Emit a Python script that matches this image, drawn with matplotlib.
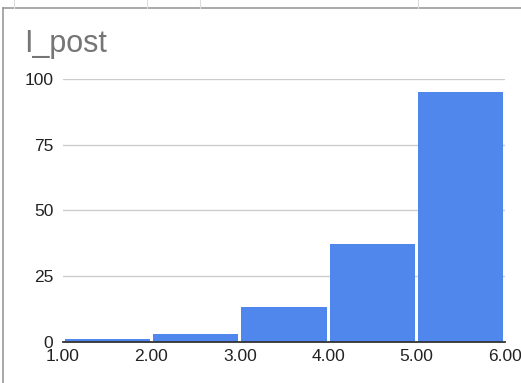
import matplotlib
matplotlib.use("Agg")
from matplotlib import pyplot as plt
from matplotlib.lines import Line2D
import numpy as np

plt.rcParams["font.family"] = ["Liberation Sans", "DejaVu Sans"]

title = "I_post"
bin_edges = [1.0, 2.0, 3.0, 4.0, 5.0, 6.0]
counts = [1, 3, 13, 37, 95]
y_ticks = [0, 25, 50, 75, 100]

W, H = 521, 383
fig = plt.figure(figsize=(W / 100, H / 100), dpi=100)
fig.patch.set_facecolor("white")

# plot area in pixel coords
left, right, bottom, top = 63, 505, 341.5, 79
ax = fig.add_axes([left / W, (H - bottom) / H, (right - left) / W, (bottom - top) / H])

edges = np.array(bin_edges)
centers = (edges[:-1] + edges[1:]) / 2
widths = np.diff(edges) * 0.965
ax.bar(centers, counts, width=widths, color="#5087EC", zorder=3)

ax.set_xlim(edges[0], edges[-1])
ax.set_ylim(0, 100)
ax.set_xticks(edges, labels=[f"{e:.2f}" for e in edges])
ax.set_yticks(y_ticks, labels=[str(v) for v in y_ticks])
ax.tick_params(axis="both", length=0, labelsize=12.5, colors="#222222")
ax.tick_params(axis="y", pad=7)
ax.tick_params(axis="x", pad=5.5)

ax.grid(axis="y", color="#cccccc", linewidth=1, zorder=0)
ax.grid(axis="x", visible=False)
for side in ["top", "right", "left"]:
    ax.spines[side].set_visible(False)
ax.spines["bottom"].set_color("#333333")
ax.spines["bottom"].set_linewidth(1.3)
ax.spines["bottom"].set_zorder(4)
ax.patch.set_alpha(0)

fig.text(24 / W, (H - 52.3) / H, title, fontsize=22, color="#757575",
         ha="left", va="baseline")

# sheet frame around the chart
frame = "#9a9a9a"
fig.add_artist(Line2D([3 / W, 1], [(H - 8) / H] * 2, color=frame, linewidth=1.2))
fig.add_artist(Line2D([3 / W] * 2, [0, (H - 8) / H], color=frame, linewidth=1.2))
for px in [14, 147, 200, 418]:
    fig.add_artist(Line2D([px / W] * 2, [(H - 8) / H, 1], color="#dddddd", linewidth=0.8))

fig.savefig("out.png", dpi=100)
